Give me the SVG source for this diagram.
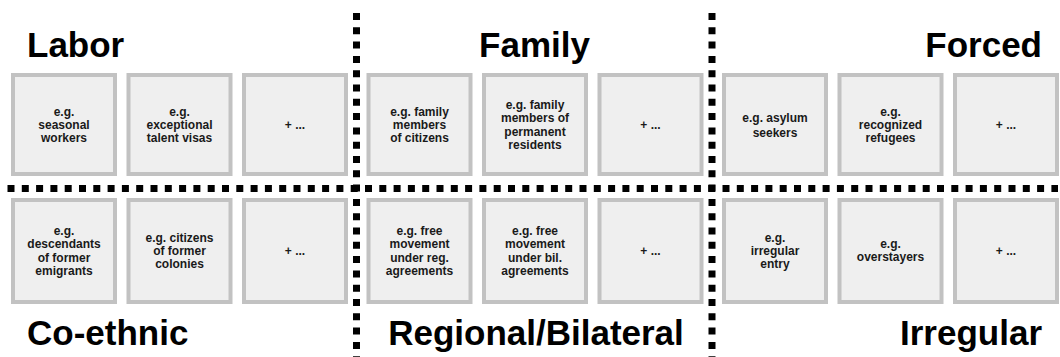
<svg xmlns="http://www.w3.org/2000/svg" width="1060" height="357" viewBox="0 0 1060 357">
<style>
.bx{fill:#efefef;stroke:#c2c2c2;stroke-width:4}
.t{font-family:"Liberation Sans",Arial,sans-serif;font-weight:bold;font-size:12px;fill:#1a1a1a;text-anchor:middle}
.h{font-family:"Liberation Sans",Arial,sans-serif;font-weight:bold;font-size:35px;fill:#000}
.d{stroke:#000;stroke-width:7;fill:none;stroke-dasharray:7 7.3}
</style>
<rect width="1060" height="357" fill="#fff"/>
<g id="titles">
<text class="h" x="27" y="57">Labor</text>
<text class="h" x="534.5" y="57" text-anchor="middle">Family</text>
<text class="h" x="1042" y="57" text-anchor="end">Forced</text>
<text class="h" x="27" y="345">Co-ethnic</text>
<text class="h" x="536" y="345" text-anchor="middle">Regional/Bilateral</text>
<text class="h" x="1042" y="345" text-anchor="end">Irregular</text>
</g>
<g id="connectors">
<line class="d" x1="7.5" y1="188.5" x2="1058" y2="188.5"/>
<line class="d" x1="356.5" y1="13" x2="356.5" y2="357"/>
<line class="d" x1="712" y1="13" x2="712" y2="357"/>
</g>
<g id="n1"><rect class="bx" x="13" y="75" width="102" height="99"/><text class="t" y="129"><tspan x="64" dy="-13.3">e.g.</tspan><tspan x="64" dy="13.3">seasonal</tspan><tspan x="64" dy="13.3">workers</tspan></text></g>
<g id="n2"><rect class="bx" x="128.5" y="75" width="102" height="99"/><text class="t" y="129"><tspan x="179.5" dy="-13.3">e.g.</tspan><tspan x="179.5" dy="13.3">exceptional</tspan><tspan x="179.5" dy="13.3">talent visas</tspan></text></g>
<g id="n3"><rect class="bx" x="244" y="75" width="102" height="99"/><text class="t" x="295" y="129">+ ...</text></g>
<g id="n4"><rect class="bx" x="368.5" y="75" width="102" height="99"/><text class="t" y="129"><tspan x="419.5" dy="-13.3">e.g. family</tspan><tspan x="419.5" dy="13.3">members</tspan><tspan x="419.5" dy="13.3">of citizens</tspan></text></g>
<g id="n5"><rect class="bx" x="484" y="75" width="102" height="99"/><text class="t" y="129"><tspan x="535" dy="-20">e.g. family</tspan><tspan x="535" dy="13.3">members of</tspan><tspan x="535" dy="13.3">permanent</tspan><tspan x="535" dy="13.3">residents</tspan></text></g>
<g id="n6"><rect class="bx" x="599.5" y="75" width="102" height="99"/><text class="t" x="650.5" y="129">+ ...</text></g>
<g id="n7"><rect class="bx" x="724" y="75" width="102" height="99"/><text class="t" y="129"><tspan x="775" dy="-7">e.g. asylum</tspan><tspan x="775" dy="14.5">seekers</tspan></text></g>
<g id="n8"><rect class="bx" x="839.5" y="75" width="102" height="99"/><text class="t" y="129"><tspan x="890.5" dy="-13.3">e.g.</tspan><tspan x="890.5" dy="13.3">recognized</tspan><tspan x="890.5" dy="13.3">refugees</tspan></text></g>
<g id="n9"><rect class="bx" x="955" y="75" width="102" height="99"/><text class="t" x="1006" y="129">+ ...</text></g>
<g id="n10"><rect class="bx" x="13" y="200" width="102" height="102"/><text class="t" y="255"><tspan x="64" dy="-20">e.g.</tspan><tspan x="64" dy="13.3">descendants</tspan><tspan x="64" dy="13.3">of former</tspan><tspan x="64" dy="13.3">emigrants</tspan></text></g>
<g id="n11"><rect class="bx" x="128.5" y="200" width="102" height="102"/><text class="t" y="255"><tspan x="179.5" dy="-13.3">e.g. citizens</tspan><tspan x="179.5" dy="13.3">of former</tspan><tspan x="179.5" dy="13.3">colonies</tspan></text></g>
<g id="n12"><rect class="bx" x="244" y="200" width="102" height="102"/><text class="t" x="295" y="255">+ ...</text></g>
<g id="n13"><rect class="bx" x="368.5" y="200" width="102" height="102"/><text class="t" y="255"><tspan x="419.5" dy="-20">e.g. free</tspan><tspan x="419.5" dy="13.3">movement</tspan><tspan x="419.5" dy="13.3">under reg.</tspan><tspan x="419.5" dy="13.3">agreements</tspan></text></g>
<g id="n14"><rect class="bx" x="484" y="200" width="102" height="102"/><text class="t" y="255"><tspan x="535" dy="-20">e.g. free</tspan><tspan x="535" dy="13.3">movement</tspan><tspan x="535" dy="13.3">under bil.</tspan><tspan x="535" dy="13.3">agreements</tspan></text></g>
<g id="n15"><rect class="bx" x="599.5" y="200" width="102" height="102"/><text class="t" x="650.5" y="255">+ ...</text></g>
<g id="n16"><rect class="bx" x="724" y="200" width="102" height="102"/><text class="t" y="255"><tspan x="775" dy="-13.3">e.g.</tspan><tspan x="775" dy="13.3">irregular</tspan><tspan x="775" dy="13.3">entry</tspan></text></g>
<g id="n17"><rect class="bx" x="839.5" y="200" width="102" height="102"/><text class="t" y="255"><tspan x="890.5" dy="-7">e.g.</tspan><tspan x="890.5" dy="13.3">overstayers</tspan></text></g>
<g id="n18"><rect class="bx" x="955" y="200" width="102" height="102"/><text class="t" x="1006" y="255">+ ...</text></g>
</svg>
